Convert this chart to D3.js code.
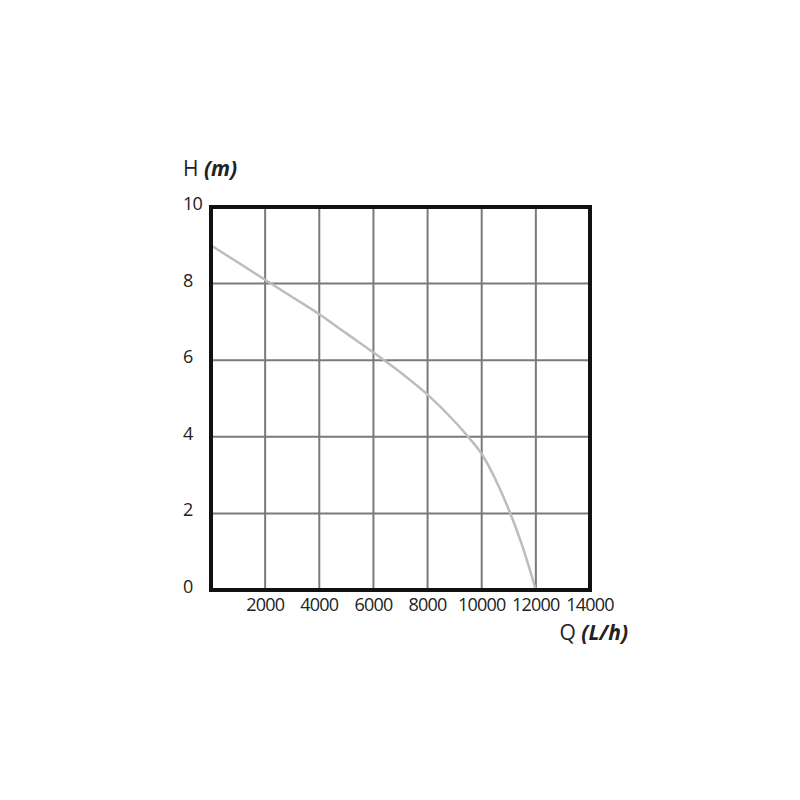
<!DOCTYPE html>
<html><head><meta charset="utf-8">
<script src="https://cdn.jsdelivr.net/npm/d3@7"></script>
<style>body{margin:0;background:#fff}</style>
</head><body>
<svg id="c" width="800" height="800"></svg>
<script>
const flowQ = [0, 1000, 2000, 3000, 4000, 5000, 6000, 7000, 8000, 9000, 9500, 10000, 10500, 11000, 11500, 12000];
const headH = [9.0, 8.55, 8.1, 7.65, 7.2, 6.7, 6.2, 5.68, 5.1, 4.4, 4.0, 3.55, 2.9, 2.1, 1.15, 0];
const xTicks = [2000, 4000, 6000, 8000, 10000, 12000, 14000];
const yTicks = [0, 2, 4, 6, 8, 10];

const svg = d3.select("#c");
const L = 211, R = 590, T = 207, B = 590;
const x = d3.scaleLinear().domain([0, 14000]).range([L, R]);
const y = d3.scaleLinear().domain([0, 10]).range([B, T]);
const font = "'Open Sans', 'DejaVu Sans', sans-serif";

// grid
svg.append("g").selectAll("line").data(xTicks.slice(0, -1)).join("line")
  .attr("x1", d => x(d)).attr("x2", d => x(d)).attr("y1", T).attr("y2", B)
  .attr("stroke", "#7a7a7a").attr("stroke-width", 2);
svg.append("g").selectAll("line").data(yTicks.slice(1, -1)).join("line")
  .attr("y1", d => y(d)).attr("y2", d => y(d)).attr("x1", L).attr("x2", R)
  .attr("stroke", "#7a7a7a").attr("stroke-width", 2);

// curve
const line = d3.line().x((d, i) => x(flowQ[i])).y(d => y(d)).curve(d3.curveMonotoneX);
svg.append("path").datum(headH).attr("d", line)
  .attr("fill", "none").attr("stroke", "#bdbdbd").attr("stroke-width", 2.5);

// frame
svg.append("rect").attr("x", L).attr("y", T).attr("width", R - L).attr("height", B - T)
  .attr("fill", "none").attr("stroke", "#111").attr("stroke-width", 4);

// tick labels
svg.append("g").selectAll("text").data(xTicks).join("text")
  .attr("x", d => x(d)).attr("y", 611).attr("text-anchor", "middle")
  .attr("font-family", font).attr("font-size", 18).attr("letter-spacing", -0.8)
  .attr("fill", "#222")
  .text(d => d);
svg.append("g").selectAll("text").data(yTicks).join("text")
  .attr("x", 183).attr("y", d => y(d) + 3).attr("text-anchor", "start")
  .attr("font-family", font).attr("font-size", 18).attr("letter-spacing", -0.8)
  .attr("fill", "#222")
  .text(d => d);

// axis titles
const ht = svg.append("text").attr("x", 183).attr("y", 176)
  .attr("font-family", font).attr("font-size", 21).attr("fill", "#222");
ht.append("tspan").text("H ");
ht.append("tspan").attr("font-weight", "bold").attr("font-style", "italic").text("(m)");

const qt = svg.append("text").attr("x", 628).attr("y", 640).attr("text-anchor", "end")
  .attr("font-family", font).attr("font-size", 21).attr("fill", "#222");
qt.append("tspan").text("Q ");
qt.append("tspan").attr("font-weight", "bold").attr("font-style", "italic").text("(L/h)");
</script>
</body></html>
